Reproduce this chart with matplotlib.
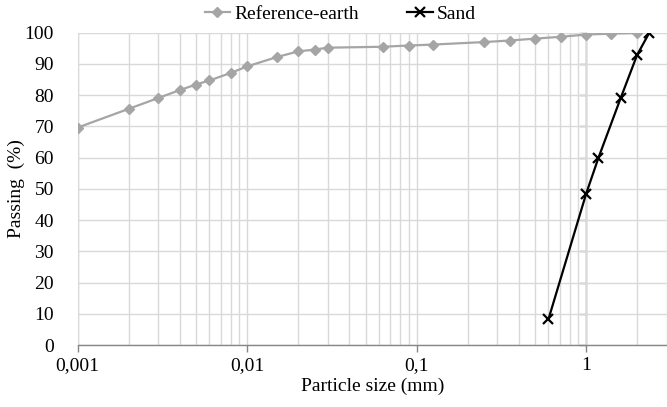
import matplotlib
matplotlib.use("Agg")
import matplotlib.pyplot as plt
import matplotlib.ticker as ticker

# ── Data ─────────────────────────────────────────────────────────────────────
earth_size = [0.001, 0.002, 0.003, 0.004, 0.005, 0.006, 0.008, 0.01, 0.015,
              0.02, 0.025, 0.03, 0.063, 0.09, 0.125, 0.25, 0.355, 0.5, 0.71,
              1.0, 1.4, 2.0]
earth_pass = [69.6, 75.6, 79.1, 81.6, 83.4, 84.7, 87.1, 89.2, 92.2,
              94.0, 94.6, 95.2, 95.5, 95.9, 96.2, 97.0, 97.5, 98.1, 98.7,
              99.4, 99.7, 99.9]

sand_size = [0.6, 1.0, 1.18, 1.6, 2.0, 2.36]
sand_pass = [8.3, 48.4, 59.8, 79.1, 92.9, 100.0]

x_ticks = [0.001, 0.01, 0.1, 1]
x_tick_labels = ["0,001", "0,01", "0,1", "1"]
y_ticks = list(range(0, 101, 10))

# ── Style ────────────────────────────────────────────────────────────────────
GRID = "#d9d9d9"
AXIS = "#868686"
EARTH = "#a5a5a5"
SAND = "#000000"
TEXT = "#000000"

plt.rcParams["font.family"] = ["Liberation Serif", "DejaVu Serif"]
plt.rcParams["font.size"] = 14

fig = plt.figure(figsize=(6.67, 4.07), dpi=100)
fig.patch.set_facecolor("white")

W, H = 667, 407
left, right, top, bottom = 77.5, 667, 32.7, 345
pos = [left / W, (H - bottom) / H, (right - left) / W, (bottom - top) / H]
ax = fig.add_axes(pos)

ax.set_xscale("log")
ax.set_xlim(0.001, 3.0)
ax.set_ylim(0, 100)

ax.plot(earth_size, earth_pass, color=EARTH, lw=1.6, marker="D", ms=5,
        mec=EARTH, mfc=EARTH, label="Reference-earth", zorder=3)
ax.plot(sand_size, sand_pass, color=SAND, lw=1.6, marker="x", ms=6.5, mew=1.6,
        label="Sand", zorder=4)

# grid: decades + minor lines, horizontal every 10 %
ax.xaxis.set_major_locator(ticker.FixedLocator(x_ticks))
ax.xaxis.set_major_formatter(ticker.FixedFormatter(x_tick_labels))
ax.xaxis.set_minor_locator(ticker.LogLocator(base=10, subs=range(2, 10)))
ax.xaxis.set_minor_formatter(ticker.NullFormatter())
ax.set_yticks(y_ticks)
ax.grid(True, which="both", axis="x", color=GRID, lw=1.0, zorder=0)
ax.grid(True, which="major", axis="y", color=GRID, lw=1.0, zorder=0)
ax.set_axisbelow(True)
ax.axvline(0.001, color=GRID, lw=1.0, zorder=0)

for side in ["top", "right", "left"]:
    ax.spines[side].set_visible(False)
ax.spines["bottom"].set_color(AXIS)
ax.spines["bottom"].set_linewidth(1.0)

ax.tick_params(axis="x", which="major", direction="out", length=5,
               color=AXIS, width=1.0, labelsize=14, pad=4)
ax.tick_params(axis="x", which="minor", length=0)
ax.tick_params(axis="y", length=0, labelsize=14, pad=17)

ax.set_xlabel("Particle size (mm)", fontsize=14, labelpad=2, color=TEXT)
ax.set_ylabel("Passing  (%)", fontsize=14, labelpad=0, color=TEXT)

# vertical axis crosses the x axis at 1 (Excel style)
ax2 = fig.add_axes(pos, sharex=ax, sharey=ax)
ax2.patch.set_visible(False)
for side in ["top", "right", "bottom"]:
    ax2.spines[side].set_visible(False)
ax2.spines["left"].set_position(("data", 1))
ax2.spines["left"].set_color(AXIS)
ax2.spines["left"].set_linewidth(1.0)
ax2.tick_params(axis="y", direction="out", length=5, color=AXIS, width=1.0,
                labelleft=False)
ax2.tick_params(axis="x", which="both", length=0, labelbottom=False)
ax2.set_zorder(ax.get_zorder() - 1)
ax.patch.set_visible(False)

fig.legend(loc="center", bbox_to_anchor=(0.51, 1 - 14 / H), ncol=2,
           frameon=False, fontsize=14, handlelength=1.3, handletextpad=0.2,
           columnspacing=2.5, borderaxespad=0)

fig.savefig("out.png", dpi=100, facecolor="white")
